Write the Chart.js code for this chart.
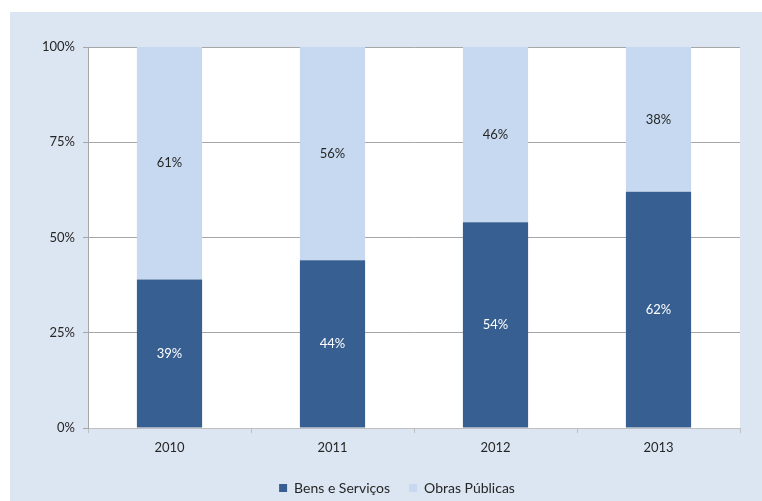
<!DOCTYPE html>
<html>
<head>
<meta charset="utf-8">
<script src="https://cdn.jsdelivr.net/npm/chart.js@4"></script>
<style>
html,body{margin:0;padding:0;background:#ffffff;}
#wrap{width:762px;height:501px;position:relative;}
</style>
</head>
<body>
<div id="wrap"><canvas id="c" width="762" height="501"></canvas></div>
<script>
const categories = ["2010", "2011", "2012", "2013"];
const bensServicos = [39, 44, 54, 62];
const obrasPublicas = [61, 56, 46, 38];
const yTicks = [0, 25, 50, 75, 100];

const FONT = "Lato, 'Open Sans', sans-serif";

const bgPlugin = {
  id: 'bg',
  afterLayout(chart) {
    if (chart.legend) {
      chart.legend.top += 4;
      chart.legend.bottom += 4;
      chart.legend.left += 27;
      chart.legend.right += 27;
    }
  },
  beforeDraw(chart) {
    const ctx = chart.ctx;
    const a = chart.chartArea;
    ctx.save();
    ctx.fillStyle = '#ffffff';
    ctx.fillRect(0, 0, chart.width, chart.height);
    ctx.fillStyle = '#dce6f2';
    ctx.fillRect(10, 12, chart.width - 10, chart.height - 12);
    ctx.fillStyle = '#ffffff';
    ctx.fillRect(a.left, a.top, a.right - a.left, a.bottom - a.top);
    ctx.restore();
  }
};

const labelPlugin = {
  id: 'vlabels',
  afterDatasetsDraw(chart) {
    const ctx = chart.ctx;
    ctx.save();
    ctx.font = "13px " + FONT;
    ctx.textAlign = 'center';
    ctx.textBaseline = 'middle';
    chart.data.datasets.forEach((ds, di) => {
      const meta = chart.getDatasetMeta(di);
      meta.data.forEach((bar, i) => {
        const y = (bar.y + bar.base) / 2;
        ctx.fillStyle = di === 0 ? '#ffffff' : '#262626';
        ctx.fillText(ds.data[i] + '%', bar.x, y);
      });
    });
    ctx.restore();
  }
};

new Chart(document.getElementById('c'), {
  type: 'bar',
  data: {
    labels: categories,
    datasets: [
      { label: 'Bens e Serviços', data: bensServicos, backgroundColor: '#375f91', borderWidth: 0 },
      { label: 'Obras Públicas', data: obrasPublicas, backgroundColor: '#c6d9f0', borderWidth: 0 }
    ]
  },
  options: {
    responsive: false,
    animation: false,
    devicePixelRatio: 1,
    layout: { padding: { left: 0, right: 22, top: 47, bottom: 0 } },
    datasets: { bar: { categoryPercentage: 1.0, barPercentage: 0.4 } },
    plugins: {
      legend: {
        position: 'bottom',
        labels: {
          font: { family: FONT, size: 14 },
          color: '#262626',
          boxWidth: 8,
          boxHeight: 8,
          padding: 19
        }
      },
      tooltip: { enabled: false }
    },
    scales: {
      x: {
        stacked: true,
        offset: true,
        grid: { offset: true, drawOnChartArea: false, drawTicks: true, tickLength: 5, color: '#bfbfbf' },
        border: { color: '#bfbfbf', width: 1 },
        ticks: { font: { family: FONT, size: 13 }, color: '#262626', padding: 7 },
        afterFit(s) { s.height = 30; }
      },
      y: {
        stacked: true,
        min: 0,
        max: 100,
        afterBuildTicks(s) { s.ticks = yTicks.map(v => ({ value: v })); },
        grid: { color: '#a6a6a6', tickLength: 5 },
        border: { color: '#a6a6a6', width: 1 },
        ticks: {
          font: { family: FONT, size: 13 },
          color: '#262626',
          padding: 8,
          callback: v => v + '%'
        },
        afterFit(s) { s.width = 88; }
      }
    }
  },
  plugins: [bgPlugin, labelPlugin]
});
</script>
</body>
</html>
